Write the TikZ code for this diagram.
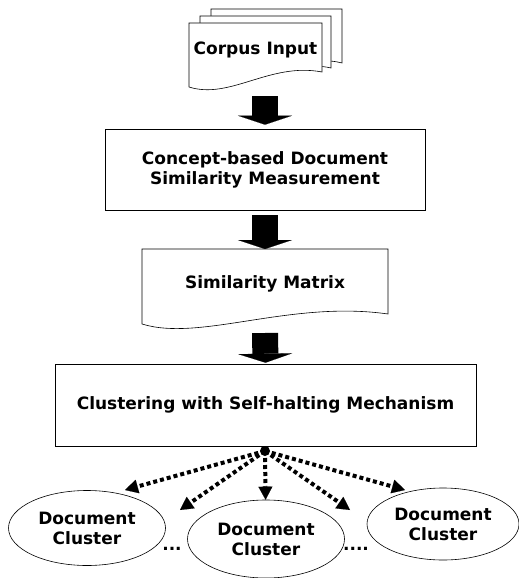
\documentclass[tikz,border=0pt]{standalone}
\usepackage{fontspec}
\setmainfont{DejaVu Sans}
\usetikzlibrary{arrows.meta,shapes.geometric}
\tikzset{
    txt/.style={font=\bfseries\fontsize{17}{20}\selectfont, align=center},
    box/.style={txt, draw, inner sep=0pt},
    cluster/.style={txt, draw, ellipse, inner sep=0pt},
    blockarrow/.style={line width=26pt, -{Triangle[width=54pt, length=9pt, line width=0.1pt]}},
    spoke/.style={line width=4pt, dash pattern=on 4pt off 3pt, -{Triangle[width=14pt, length=13pt, line width=0.1pt]}}
}
\begin{document}
\begin{tikzpicture}[x=1pt, y=-1pt, line width=0.6pt]
    \useasboundingbox (0,0) rectangle (519,578);

    \draw[fill=white](211,70)--(211,9)--(342,9)--(342,63) .. controls (300,52) and (250,85) .. (211,70)--cycle;
    \draw[fill=white](200,80)--(200,16)--(331,16)--(331,68) .. controls (290,58) and (240,95) .. (200,80)--cycle;
    \draw[fill=white](189,87)--(189,23)--(322,23)--(322,72) .. controls (270,62) and (230,100) .. (189,87)--cycle;
    \node[txt] (corpus) at (255.5,50) {Corpus Input};
    \coordinate (corpusbot) at (265,96);

    \node[box, minimum width=320pt, minimum height=81pt] (concept) at (265,169.5) {Concept-based Document\\Similarity Measurement};

    \draw(142,324)--(142,249)--(388,249)--(388,314) .. controls (290,300) and (200,342) .. (142,324);
    \node[txt] (matrix) at (265,284) {Similarity Matrix};
    \coordinate (matrixtop) at (265,249);
    \coordinate (matrixbot) at (265,333);

    \node[box, minimum width=421pt, minimum height=82pt] (clustering) at (265.5,405) {Clustering with Self-halting Mechanism};

    \draw[blockarrow](corpusbot)--([yshift=4pt]concept.north);
    \draw[blockarrow]([yshift=-5pt]concept.south)--(matrixtop);
    \draw[blockarrow](matrixbot)--([yshift=1pt]clustering.north);

    \node[cluster, minimum width=157pt, minimum height=75pt] (left) at (87,528) {Document\\Cluster};
    \node[cluster, minimum width=157pt, minimum height=78pt] (middle) at (266,539) {Document\\Cluster};
    \node[cluster, minimum width=152pt, minimum height=72pt] (right) at (443,524) {Document\\Cluster};

    \node[txt, anchor=base] (dotsl) at (172,550) {...};
    \node[txt, anchor=base] (dotsr) at (356,550) {....};

    \node[fill, circle, inner sep=0pt, minimum size=10pt] (hub) at (265,451) {};
    \coordinate (tipa) at (125,490);
    \coordinate (tipb) at (180,510);
    \coordinate (tipd) at (350,510);
    \coordinate (tipe) at (405,490);
\foreach \t in {tipa,tipb,tipd,tipe}
{
    \draw[spoke](hub.center)--(\t);
}
    \draw[spoke](hub.center)--(middle);

\end{tikzpicture}
\end{document}
